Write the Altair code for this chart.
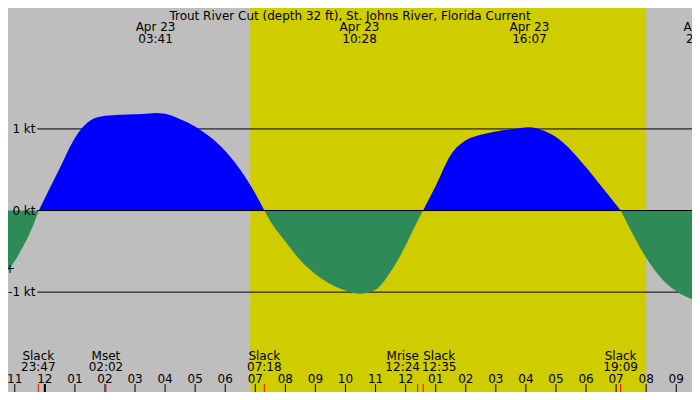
import altair as alt
import pandas as pd

# ---- data (hours from Apr 23 00:00, current in knots) ----
hours = [-1.25, -1.0, -0.75, -0.5, -0.2, 0.0, 0.5, 1.0, 1.5, 2.0,
         2.5, 3.0, 3.5, 3.68, 4.0, 4.5, 5.0, 5.5, 6.0, 6.5,
         7.0, 7.3, 7.5, 8.0, 8.5, 9.0, 9.5, 10.0, 10.47, 11.0,
         11.5, 12.0, 12.3, 12.58, 13.0, 13.5, 14.0, 14.5, 15.0, 15.5,
         16.12, 16.5, 17.0, 17.5, 18.0, 18.5, 19.0, 19.15, 19.5, 20.0,
         20.5, 21.0, 21.55]
speed = [-0.75, -0.62, -0.46, -0.28, 0.0, 0.15, 0.52, 0.89, 1.10, 1.16,
         1.175, 1.18, 1.19, 1.195, 1.185, 1.12, 1.03, 0.90, 0.73, 0.50,
         0.21, 0.0, -0.13, -0.38, -0.61, -0.78, -0.90, -0.98, -1.02, -0.97,
         -0.75, -0.43, -0.2, 0.0, 0.30, 0.68, 0.86, 0.93, 0.97, 0.995,
         1.02, 0.99, 0.90, 0.74, 0.53, 0.30, 0.07, 0.0, -0.25, -0.58,
         -0.83, -0.99, -1.09]

sunrise = [6.83]
sunset = [20.0]

levels = [1, 0, -1]
level_labels = ["1 kt", "0 kt", "-1 kt"]

max_times = [3.683, 10.467, 16.117, 21.9]
max_dates = ["Apr 23", "Apr 23", "Apr 23", "Apr 23"]
max_clock = ["03:41", "10:28", "16:07", "21:54"]

ev_times = [-0.217, 2.033, 7.3, 12.4, 12.583, 19.15]
ev_names = ["Slack", "Mset", "Slack", "Mrise", "Slack", "Slack"]
ev_clock = ["23:47", "02:02", "07:18", "12:24", "12:35", "19:09"]
ev_shift = [0, 0, 0, -15, 16, 0]

tick_hours = list(range(-1, 22))
tick_labels = ["11", "12", "01", "02", "03", "04", "05", "06", "07", "08", "09", "10",
               "11", "12", "01", "02", "03", "04", "05", "06", "07", "08", "09"]
date_change = [0]

marker_time = [-1.16]
marker_value = [-0.72]

title_text = "Trout River Cut (depth 32 ft), St. Johns River, Florida Current"

# ---- split the curve into flood / ebb lobes (slack points shared) ----
rows = []
lobe = 0
for t, v in zip(hours, speed):
    rows.append({"t": t, "v": v, "lobe": lobe})
    if v == 0:
        lobe += 1
        rows.append({"t": t, "v": v, "lobe": lobe})
curve = pd.DataFrame(rows)
lobe_sign = curve.groupby("lobe")["v"].sum()
curve["dir"] = curve["lobe"].map(lambda k: "flood" if lobe_sign[k] > 0 else "ebb")

# ---- chart ----
W, H = 684, 384
FONT = "DejaVu Sans"
xs = alt.Scale(domain=[-1.225, 21.524], nice=False, zero=False)
ys = alt.Scale(domain=[-2.224, 2.482], nice=False, zero=False)
X = lambda f: alt.X(f, type="quantitative", scale=xs, axis=None)

day = pd.DataFrame({"a": sunrise, "b": sunset})
lv = pd.DataFrame({"v": levels, "label": level_labels})
mx = pd.DataFrame({"t": max_times, "d": max_dates, "c": max_clock})
ev = pd.DataFrame({"t": ev_times, "n": ev_names, "c": ev_clock, "s": ev_shift})
tk = pd.DataFrame({"t": tick_hours, "label": tick_labels})
dc = pd.DataFrame({"t": date_change})
mk = pd.DataFrame({"t": marker_time, "v": marker_value})

daylight = alt.Chart(day).mark_rect(color="#cfcc00").encode(
    x=X("a"), x2="b", y=alt.value(0), y2=alt.value(H))

hlines = alt.Chart(lv).mark_rule(color="black", strokeWidth=1).encode(
    x=alt.value(29.3), x2=alt.value(W),
    y=alt.Y("v:Q", scale=ys, axis=None))

hlabels = alt.Chart(lv).mark_text(align="right", baseline="middle", font=FONT,
                                  fontSize=12, color="black").encode(
    x=alt.value(27.5), y=alt.Y("v:Q", scale=ys, axis=None), text="label:N")

areas = alt.Chart(curve).mark_area(interpolate="monotone").encode(
    x=X("t"), y=alt.Y("v:Q", scale=ys, axis=None), y2=alt.datum(0),
    detail="lobe:N",
    color=alt.Color("dir:N", scale=alt.Scale(domain=["flood", "ebb"],
                                             range=["#0000ff", "#2e8b57"]), legend=None))

zero_line = alt.Chart(lv).transform_filter("datum.v == 0").mark_rule(
    color="black", strokeWidth=1).encode(
    x=alt.value(29.3), x2=alt.value(W), y=alt.Y("v:Q", scale=ys, axis=None))

title = alt.Chart(pd.DataFrame({"s": [title_text]})).mark_text(
    align="center", baseline="alphabetic", font=FONT, fontSize=12, color="black").encode(
    x=alt.value(W / 2), y=alt.value(11.5), text="s:N")

max_d = alt.Chart(mx).mark_text(align="center", baseline="alphabetic", font=FONT,
                                fontSize=12, color="black").encode(
    x=X("t"), y=alt.value(23), text="d:N")
max_c = alt.Chart(mx).mark_text(align="center", baseline="alphabetic", font=FONT,
                                fontSize=12, color="black").encode(
    x=X("t"), y=alt.value(34.5), text="c:N")

ev_n = alt.Chart(ev).transform_calculate(tt="datum.t + datum.s / 30.07").mark_text(
    align="center", baseline="alphabetic", font=FONT, fontSize=12, color="black").encode(
    x=X("tt"), y=alt.value(352), text="n:N")
ev_c = alt.Chart(ev).transform_calculate(tt="datum.t + datum.s / 30.07").mark_text(
    align="center", baseline="alphabetic", font=FONT, fontSize=12, color="black").encode(
    x=X("tt"), y=alt.value(362.8), text="c:N")

hour_lbl = alt.Chart(tk).mark_text(align="center", baseline="alphabetic", font=FONT,
                                   fontSize=12, color="black").encode(
    x=X("t"), y=alt.value(374.5), text="label:N")
hour_tick = alt.Chart(tk).mark_rule(color="black", strokeWidth=1).encode(
    x=X("t"), y=alt.value(376), y2=alt.value(H))
date_tick = alt.Chart(dc).mark_rule(color="black", strokeWidth=2).encode(
    x=X("t"), y=alt.value(376), y2=alt.value(H))
ev_tick = alt.Chart(ev).mark_rule(color="red", strokeWidth=1).encode(
    x=X("t"), y=alt.value(376), y2=alt.value(H))

marker = alt.Chart(mk).mark_text(align="center", baseline="middle", font=FONT,
                                 fontSize=12, color="black").encode(
    x=X("t"), y=alt.Y("v:Q", scale=ys, axis=None), text=alt.value("+"))

chart = alt.layer(
    daylight, hlines, areas, zero_line, hlabels, marker,
    title, max_d, max_c, ev_n, ev_c, hour_lbl, hour_tick, date_tick, ev_tick
).properties(
    width=W, height=H, padding=0, autosize="none", background="#bebebe"
).configure_view(stroke=None)

chart.save("out.html", embed_options={"renderer": "svg", "actions": False})
